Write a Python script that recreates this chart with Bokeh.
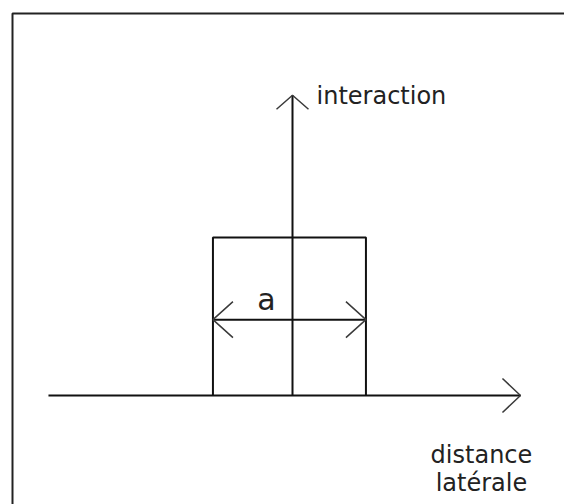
from bokeh.plotting import figure
from bokeh.models import Range1d, Label
from bokeh.embed import file_html
from bokeh.resources import INLINE

# ---- diagram data (unit: a = width of the interaction step) ----
step_x = [-0.52, 0.48]        # step edges (width a = 1)
step_level = 1.0              # interaction level inside the step
x_axis_extent = [-1.595, 1.49]  # lateral distance axis
y_axis_extent = [0.0, 1.90]     # interaction axis
width_arrow_level = 0.48        # height of the double arrow showing a
axis_label_y = "interaction"
axis_label_x = ["distance", "latérale"]
width_label = "a"

# ---- layout / style ----
W, H = 564, 504
sx, sy = 153.0, 158.0          # pixels per data unit
ox, oy = 292.0, 395.0          # origin position inside the frame (pixels from left/top)
INK = "#111111"
TXT = "#222222"
HEAD = "#3a3a3a"
FONT = "DejaVu Sans"

p = figure(width=W, height=H, output_backend="svg", toolbar_location=None,
           x_range=Range1d(-ox / sx, (W - ox) / sx),
           y_range=Range1d(-(H - oy) / sy, oy / sy),
           min_border=0, outline_line_color=None)
p.axis.visible = False
p.grid.visible = False
p.background_fill_color = "white"
p.border_fill_color = "white"

def px_x(n):
    return n / sx

def px_y(n):
    return n / sy

# frame border (left and top edges only, as in the picture)
bx = p.x_range.start + px_x(12)
by = p.y_range.end - px_y(13)
p.line([bx, bx, p.x_range.end + 1], [p.y_range.start - 1, by, by],
       line_color="#222222", line_width=2)

# step (rectangle)
p.line([step_x[0], step_x[0], step_x[1], step_x[1]],
       [0, step_level, step_level, 0], line_color=INK, line_width=2)

# axes
p.segment(x0=[x_axis_extent[0], 0], y0=[0, y_axis_extent[0]],
          x1=[x_axis_extent[1], 0], y1=[0, y_axis_extent[1]],
          line_color=INK, line_width=2)

# double arrow for a
p.segment(x0=[step_x[0]], y0=[width_arrow_level], x1=[step_x[1]], y1=[width_arrow_level],
          line_color=INK, line_width=2)

# open arrowheads (computed in pixel space around each tip)
def head(tx, ty, dx, dy, L=17, Wd=17):
    bxp = -dx * L
    byp = -dy * L
    px_, py_ = -dy * Wd, dx * Wd
    xs = [tx + px_x(bxp + px_), tx, tx + px_x(bxp - px_)]
    ys = [ty + px_y(byp + py_), ty, ty + px_y(byp - py_)]
    return xs, ys

heads = [
    head(x_axis_extent[1], 0, 1, 0, L=18, Wd=17),
    head(0, y_axis_extent[1], 0, 1, L=14, Wd=16),
    head(step_x[0], width_arrow_level, -1, 0, L=20, Wd=18),
    head(step_x[1], width_arrow_level, 1, 0, L=20, Wd=18),
]
p.multi_line([h[0] for h in heads], [h[1] for h in heads],
             line_color=HEAD, line_width=1.5)

# labels
p.add_layout(Label(x=0, y=y_axis_extent[1], x_offset=24, y_offset=-1,
                   text=axis_label_y, text_font=FONT, text_font_size="24px",
                   text_color=TXT, text_align="left", text_baseline="alphabetic"))
for i, t in enumerate(axis_label_x):
    p.add_layout(Label(x=x_axis_extent[1], y=0, x_offset=-39, y_offset=-59 - 28 * i,
                       text=t, text_font=FONT, text_font_size="24px",
                       text_color=TXT, text_align="center", text_baseline="alphabetic"))
p.add_layout(Label(x=0, y=width_arrow_level, x_offset=-26, y_offset=20,
                   text=width_label, text_font=FONT, text_font_size="30px",
                   text_color=TXT, text_align="center", text_baseline="alphabetic"))

open("out.html", "w").write(file_html(p, INLINE))
